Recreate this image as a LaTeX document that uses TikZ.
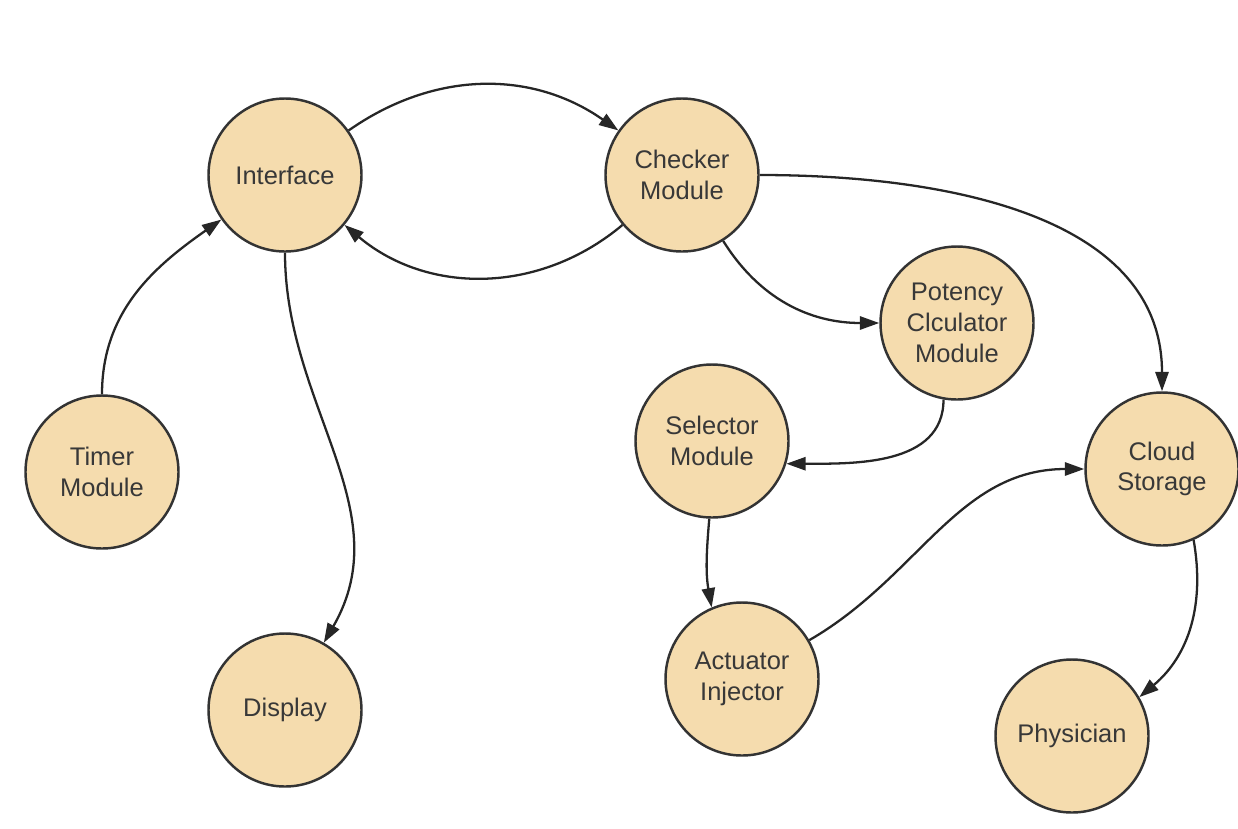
\documentclass[tikz,border=0pt]{standalone}
\usepackage{fontspec}
\setmainfont{Liberation Sans}
\usepackage{xcolor}
\usetikzlibrary{arrows.meta,positioning}
\definecolor{modfill}{HTML}{F5DCAE}
\definecolor{modline}{HTML}{333333}

\begin{document}
\begin{tikzpicture}[
  font=\fontsize{14.5}{17.5}\selectfont,
  node distance=2cm, on grid,
  module/.style={circle,draw=modline,line width=1.4pt,fill=modfill,minimum size=3.06cm,align=center,text=black!78,inner sep=1pt},
  arrow/.style={-{Triangle[length=11pt,width=7.5pt]},line width=1.3pt,draw=black!85},
]
\useasboundingbox (0,0) rectangle (24.76,-16.56);
\node[module] (intf) at (5.70,-3.50) {Interface};
\node[module, right=7.94cm of intf] (chk) {Checker\\Module};
\node[module, below right=2.96cm and 5.50cm of chk] (pot) {Potency\\Clculator\\Module};
\node[module, below left=5.94cm and 3.66cm of intf] (tmr) {Timer\\Module};
\node[module, below right=5.32cm and 0.60cm of chk] (sel) {Selector\\Module};
\node[module, below right=2.92cm and 4.10cm of pot] (cld) {Cloud\\Storage};
\node[module, below=10.70cm of intf] (disp) {Display};
\node[module, below right=4.76cm and 0.60cm of sel] (act) {Actuator\\Injector};
\node[module, below left=5.34cm and 1.80cm of cld] (phy) {Physician};
\draw[arrow] (intf) to[out=35,in=145] (chk);
\draw[arrow] (chk) to[out=-140,in=-40] (intf);
\draw[arrow] (tmr) to[out=90,in=215] (intf);
\draw[arrow] (intf) to[out=-90,in=60] (disp);
\draw[arrow] (chk) to[out=-58,in=180] (pot);
\draw[arrow] (chk) to[out=0,in=90] (cld);
\draw[arrow] (pot.-100) to[out=-90,in=0] (sel.-17);
\draw[arrow] (sel.-92) to[out=-95,in=100] (act.113);
\draw[arrow] (act) to[out=30,in=180] (cld);
\draw[arrow] (cld.-66) to[out=-80,in=40] (phy.30);
\end{tikzpicture}
\end{document}
